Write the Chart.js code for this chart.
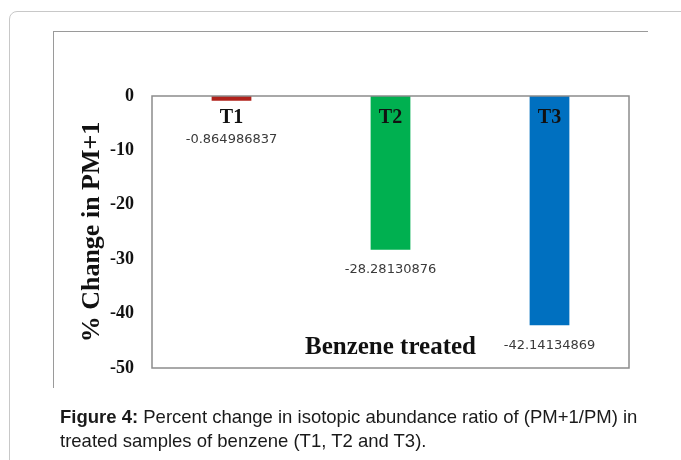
<!DOCTYPE html>
<html>
<head>
<meta charset="utf-8">
<script src="https://cdn.jsdelivr.net/npm/chart.js@4.4.1/dist/chart.umd.min.js"></script>
<style>
  html, body { margin: 0; padding: 0; background: #fff; overflow: hidden; }
  #wrap { position: relative; width: 681px; height: 460px; }
  #outer { position: absolute; left: 9px; top: 11px; width: 720px; height: 520px;
           border: 1px solid #c8c8c8; border-radius: 8px; box-sizing: border-box; }
  #frameTop { position: absolute; left: 53px; top: 31px; width: 595px; height: 0; border-top: 1.5px solid #9a9a9a; }
  #frameLeft { position: absolute; left: 53px; top: 31px; width: 0; height: 357px; border-left: 1.5px solid #9a9a9a; }
  canvas { position: absolute; left: 0; top: 0; }
  #caption { position: absolute; left: 60px; top: 405px; width: 610px;
             font-family: "Liberation Sans", Arial, sans-serif;
             font-size: 18.5px; line-height: 24px; color: #1a1a1a; }
  #caption b { font-weight: bold; }
</style>
</head>
<body>
<div id="wrap">
  <div id="outer"></div>
  <div id="frameTop"></div>
  <div id="frameLeft"></div>
  <canvas id="c" width="681" height="460"></canvas>
  <div id="caption"><b>Figure 4:</b> Percent change in isotopic abundance ratio of (PM+1/PM) in<br>treated samples of benzene (T1, T2 and T3).</div>
</div>
<script>
const categories = ["T1", "T2", "T3"];
const values = [-0.864986837, -28.28130876, -42.14134869];
const valueLabels = ["-0.864986837", "-28.28130876", "-42.14134869"];
const barColors = ["#b0221b", "#00b050", "#0070c0"];
const yTitle = "% Change in PM+1";
const xTitle = "Benzene treated";

const overlay = {
  id: "overlay",
  afterDatasetsDraw(chart) {
    const ctx = chart.ctx;
    const a = chart.chartArea;
    ctx.save();
    ctx.strokeStyle = "#8c8c8c";
    ctx.lineWidth = 1.5;
    ctx.strokeRect(a.left, a.top, a.right - a.left, a.bottom - a.top);
    const meta = chart.getDatasetMeta(0);
    meta.data.forEach((bar, i) => {
      ctx.fillStyle = "#111";
      ctx.font = "bold 20px 'Liberation Serif', 'Times New Roman', serif";
      ctx.textAlign = "center";
      ctx.textBaseline = "middle";
      ctx.fillText(categories[i], bar.x, a.top + 22);
      ctx.fillStyle = "#3a3a3a";
      ctx.font = "13px 'DejaVu Sans', sans-serif";
      const y = Math.max(bar.y + 20, a.top + 44);
      ctx.fillText(valueLabels[i], bar.x, y);
    });
    ctx.fillStyle = "#111";
    ctx.font = "bold 25px 'Liberation Serif', 'Times New Roman', serif";
    ctx.textAlign = "center";
    ctx.textBaseline = "middle";
    ctx.fillText(xTitle, (a.left + a.right) / 2, a.bottom - 20);
    ctx.restore();
  }
};

new Chart(document.getElementById("c"), {
  type: "bar",
  data: {
    labels: categories,
    datasets: [{
      data: values,
      backgroundColor: barColors,
      borderWidth: 0,
      barPercentage: 0.5,
      categoryPercentage: 0.5
    }]
  },
  options: {
    responsive: false,
    animation: false,
    events: [],
    layout: { padding: { left: 53, top: 96, right: 52, bottom: 92 } },
    plugins: { legend: { display: false }, tooltip: { enabled: false } },
    scales: {
      x: { display: false },
      y: {
        min: -50, max: 0,
        afterFit(s) { s.width = 99; },
        grid: { display: false, drawTicks: false },
        border: { display: false },
        ticks: {
          stepSize: 10,
          padding: 18,
          color: "#111",
          font: { family: "'Liberation Serif', 'Times New Roman', serif", size: 18, weight: "bold" }
        },
        title: {
          display: true,
          text: yTitle,
          color: "#111",
          padding: { top: 24, bottom: 0 },
          font: { family: "'Liberation Serif', 'Times New Roman', serif", size: 26, weight: "bold" }
        }
      }
    }
  },
  plugins: [overlay]
});
</script>
</body>
</html>
